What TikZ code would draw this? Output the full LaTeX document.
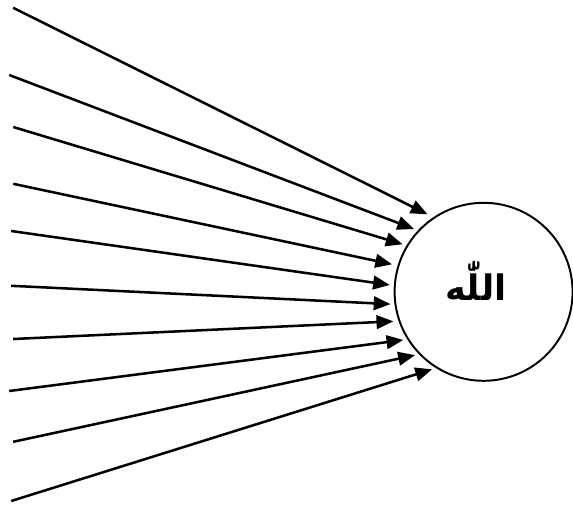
\documentclass[tikz,border=0pt]{standalone}
\usepackage{fontspec}
\usepackage{tikz}
\usetikzlibrary{arrows.meta,positioning,shapes}
\TeXXeTstate=1
\newfontfamily\arabicfont[Script=Arabic]{DejaVu Sans}

\begin{document}
\begin{tikzpicture}[
    arr/.style={line width=1.8pt,-{Triangle[length=0.42cm,width=0.34cm]},shorten >=0.1cm},
    godnode/.style={draw,circle,line width=1.4pt,minimum size=4.45cm,inner sep=0pt},
    godtext/.style={inner sep=1pt,font=\arabicfont\bfseries\fontsize{25}{30}\selectfont}
]
    \useasboundingbox (0,0) rectangle (14.325,12.725);

    % Circle
    \node[godnode] (lah) at (12.09,5.43) {};
    \node[godtext] (name) at (11.9,5.7) {\beginR اللّٰه\endR};

    % Starts
    \coordinate (s1) at (0.33,12.53);
    \coordinate (s2) at (0.23,10.85);
    \coordinate (s3) at (0.33,9.55);
    \coordinate (s4) at (0.33,8.13);
    \coordinate (s5) at (0.28,6.95);
    \coordinate (s6) at (0.28,5.58);
    \coordinate (s7) at (0.33,4.25);
    \coordinate (s8) at (0.23,2.95);
    \coordinate (s9) at (0.33,1.68);
    \coordinate (s10) at (0.28,0.2);

    % Arrows
    \draw[arr,shorten >=0.16cm] (s1) -- (lah.124);
    \draw[arr] (s2) -- (lah.137);
    \draw[arr] (s3) -- (lah.149);
    \draw[arr,shorten >=0.14cm] (s4) -- (lah.163);
    \draw[arr] (s5) -- (lah.176);
    \draw[arr] (s6) -- (lah.188);
    \draw[arr,shorten >=0.13cm] (s7) -- (lah.199);
    \draw[arr] (s8) -- (lah.212);
    \draw[arr] (s9) -- (lah.224);
    \draw[arr] (s10) -- (lah.238);
\end{tikzpicture}
\end{document}
